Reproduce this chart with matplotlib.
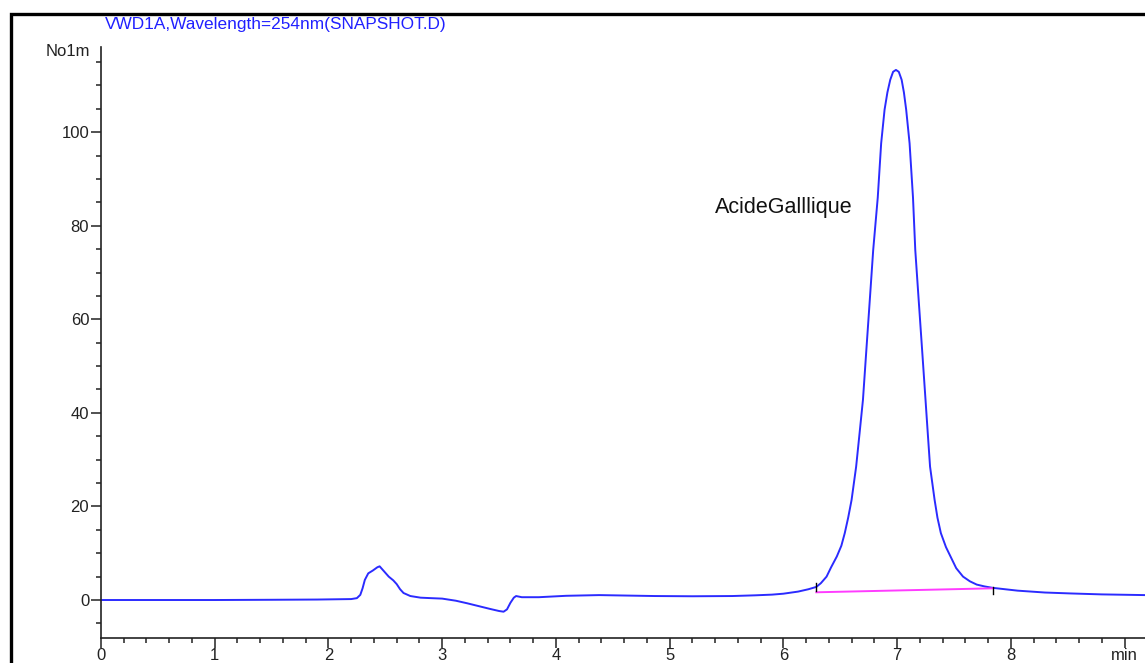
import matplotlib.pyplot as plt
from matplotlib.patches import Rectangle
from matplotlib.ticker import MultipleLocator

plt.rcParams['font.family'] = ['Liberation Sans', 'DejaVu Sans']

# signal trace (time in min, absorbance)
time = [0.0, 0.5, 1.0, 1.5, 1.9, 2.2, 2.25, 2.28, 2.30, 2.32, 2.35, 2.39, 2.43,
        2.45, 2.49, 2.53, 2.57, 2.60, 2.63, 2.66, 2.72, 2.81, 2.90, 3.00, 3.12,
        3.22, 3.32, 3.42, 3.50, 3.54, 3.57, 3.60, 3.63, 3.65, 3.70, 3.85, 4.09,
        4.38, 4.87, 5.20, 5.55, 5.75, 5.90, 6.00, 6.13, 6.22, 6.29, 6.33, 6.38,
        6.42, 6.47, 6.51, 6.54, 6.57, 6.60, 6.64, 6.67, 6.70, 6.73, 6.76, 6.79,
        6.83, 6.86, 6.89, 6.915, 6.94, 6.965, 6.99, 7.015, 7.04, 7.06, 7.08, 7.11,
        7.14, 7.16, 7.19, 7.22, 7.25, 7.27, 7.29, 7.33, 7.355, 7.385, 7.43, 7.47,
        7.52, 7.58, 7.64, 7.70, 7.77, 7.84, 7.95, 8.06, 8.30, 8.53, 8.80, 9.18]
signal = [0.0, 0.0, 0.0, 0.05, 0.1, 0.2, 0.4, 1.1, 2.5, 4.3, 5.7, 6.3, 7.0,
          7.2, 6.1, 5.0, 4.2, 3.4, 2.3, 1.5, 0.85, 0.5, 0.4, 0.3, -0.15,
          -0.7, -1.3, -1.9, -2.35, -2.5, -2.0, -0.6, 0.5, 0.85, 0.6, 0.6, 0.9,
          1.05, 0.85, 0.8, 0.85, 1.0, 1.15, 1.35, 1.8, 2.3, 2.8, 3.6, 5.0,
          7.0, 9.3, 11.6, 14.3, 17.6, 21.4, 28.5, 35.6, 42.8, 53.5, 64.1, 74.8,
          86.0, 97.6, 104.8, 108.5, 111.2, 112.9, 113.3, 112.9, 111.2, 108.5, 104.8, 97.6,
          86.0, 74.8, 64.1, 53.5, 42.8, 35.6, 28.5, 21.4, 17.6, 14.3, 11.3, 9.3,
          6.8, 5.0, 4.0, 3.3, 2.9, 2.6, 2.3, 2.0, 1.6, 1.4, 1.2, 1.05]

# integration baseline of the main peak
base_t = [6.29, 7.84]
base_y = [1.65, 2.5]
start_mark = [1.9, 3.7]
end_mark = [1.3, 2.7]

x_ticks = [0, 1, 2, 3, 4, 5, 6, 7, 8, 9]
x_labels = ['0', '1', '2', '3', '4', '5', '6', '7', '8', 'min']
y_ticks = [0, 20, 40, 60, 80, 100]

fig = plt.figure(figsize=(11.45, 6.63), dpi=100)
ax = fig.add_axes([101 / 1145, 25 / 663, 1 - 101 / 1145, 591 / 663])

ax.plot(time, signal, color='#2b2bff', lw=1.4)
ax.plot(base_t, base_y, color='#ff3cff', lw=1.4)
ax.plot([base_t[0]] * 2, start_mark, color='black', lw=1)
ax.plot([base_t[1]] * 2, end_mark, color='black', lw=1)

ax.text(6.0, 84, 'AcideGalllique', ha='center', va='center', fontsize=15.5, color='#111111')

ax.set_xlim(0, 9.18)
ax.set_ylim(-8.12, 118.2)
ax.set_xticks(x_ticks)
ax.set_xticklabels(x_labels)
ax.set_yticks(y_ticks)
ax.xaxis.set_minor_locator(MultipleLocator(0.2))
ax.yaxis.set_minor_locator(MultipleLocator(5))

for side in ['top', 'right']:
    ax.spines[side].set_visible(False)
for side in ['left', 'bottom']:
    ax.spines[side].set_linewidth(1.2)
    ax.spines[side].set_color('#222222')

ax.tick_params(which='major', direction='out', length=7, width=1.1,
               labelsize=12, labelcolor='#222222', color='#222222')
ax.tick_params(axis='x', which='major', pad=0.5)
ax.tick_params(axis='y', which='major', pad=1.5)
ax.tick_params(which='minor', direction='out', length=3.5, width=1.1, color='#222222')

fig.text(105 / 1145, 1 - 24 / 663, 'VWD1A,Wavelength=254nm(SNAPSHOT.D)',
         color='#2020ff', fontsize=12.4, va='center', ha='left')
fig.text(90 / 1145, 1 - 52 / 663, 'No1m', fontsize=12, color='#222222',
         va='center', ha='right')

# outer frame
fig.patches.append(Rectangle((11 / 1145, -0.2), 2.0, 1.2 - 14 / 663,
                             transform=fig.transFigure, fill=False,
                             edgecolor='black', lw=2.4, clip_on=False))

fig.savefig('out.png', dpi=100)
